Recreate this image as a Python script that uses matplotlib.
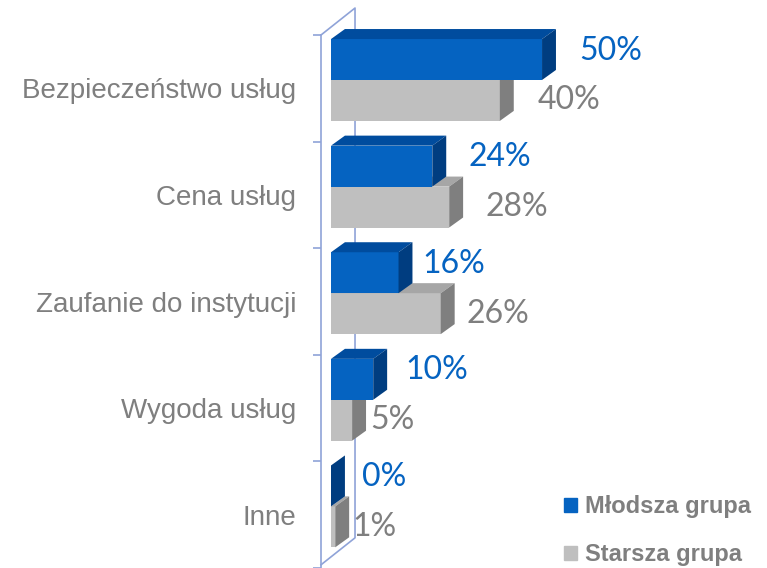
import matplotlib.pyplot as plt
from matplotlib.patches import Polygon, Patch
import numpy as np

categories = ['Bezpieczeństwo usług', 'Cena usług', 'Zaufanie do instytucji',
              'Wygoda usług', 'Inne']
mlodsza = [50, 24, 16, 10, 0]
starsza = [40, 28, 26, 5, 1]
series_names = ['Młodsza grupa', 'Starsza grupa']

# label gaps (pixels) after the 3d side face, tuned by eye
blue_gap = [23, 22, 10, 18, 17]
gray_gap = [24, 22, 12, 4, 3]

BLUE = '#0563C1'
BLUE_TOP = '#004C9E'
BLUE_SIDE = '#003D80'
GRAY = '#BFBFBF'
GRAY_TOP = '#A6A6A6'
GRAY_SIDE = '#7F7F7F'
WALL = '#8FA3D8'
TXT = '#7F7F7F'

# fake 3d depth in data units
DX = 3.3
DY = -0.094
H = 0.384

fig = plt.figure(figsize=(7.67, 5.68), dpi=100)
ax = fig.add_axes([321 / 767, 0, 1 - 321 / 767, 533 / 568])
ax.set_xlim(-2.37, 103.3)
ax.set_ylim(4.995, 0)

n = len(categories)
idx = np.arange(n)
y_blue = idx + 0.23
y_gray = idx + 0.23 + H


def draw_3d(vals, ys, front, top, side, z):
    bars = ax.barh(ys, vals, height=H, color=front, zorder=z, clip_on=False)
    for b in bars:
        x0, yt = b.get_x(), b.get_y()
        w, h = b.get_width(), b.get_height()
        # top face
        ax.add_patch(Polygon([(x0, yt), (x0 + w, yt), (x0 + w + DX, yt + DY), (x0 + DX, yt + DY)],
                             closed=True, color=top, zorder=z, clip_on=False, lw=0))
        # right face
        ax.add_patch(Polygon([(x0 + w, yt), (x0 + w, yt + h), (x0 + w + DX, yt + h + DY),
                              (x0 + w + DX, yt + DY)],
                             closed=True, color=side, zorder=z, clip_on=False, lw=0))
    return bars


# back wall
bx = -2.37 + 8.06
by = -0.253
ax.plot([-2.37, bx, bx, -2.37], [0, by, 4.97 + by, 4.97], color=WALL, lw=1.2,
        zorder=1, clip_on=False)

draw_3d(starsza, y_gray, GRAY, GRAY_TOP, GRAY_SIDE, 2)
draw_3d(mlodsza, y_blue, BLUE, BLUE_TOP, BLUE_SIDE, 3)

for i in range(n):
    ax.annotate('{}%'.format(mlodsza[i]), (mlodsza[i] + DX, y_blue[i]),
                xytext=(blue_gap[i], 9), textcoords='offset pixels',
                ha='left', va='center', fontsize=23, color=BLUE, family='Lato',
                annotation_clip=False)
    ax.annotate('{}%'.format(starsza[i]), (starsza[i] + DX, y_gray[i]),
                xytext=(gray_gap[i], 0), textcoords='offset pixels',
                ha='left', va='center', fontsize=23, color=TXT, family='Lato',
                annotation_clip=False)

for s in ['top', 'right', 'bottom']:
    ax.spines[s].set_visible(False)
ax.spines['left'].set_color(WALL)
ax.spines['left'].set_linewidth(1.2)
ax.set_xticks([])
ax.set_yticks(np.arange(n + 1))
ax.set_yticklabels([])
ax.tick_params(axis='y', which='major', length=6, color=WALL, width=1.2)
ax.set_yticks(idx + 0.5, minor=True)
ax.set_yticklabels(categories, minor=True, fontsize=20, color=TXT,
                   family='Liberation Sans')
ax.tick_params(axis='y', which='minor', length=0, pad=18)

handles = [Patch(color=BLUE), Patch(color=GRAY)]
leg = fig.legend(handles, series_names, loc='lower right', bbox_to_anchor=(1.007, -0.034),
                 frameon=False, handlelength=0.55, handleheight=0.55, handletextpad=0.35,
                 labelspacing=1.05, prop={'family': 'Liberation Sans', 'weight': 'bold', 'size': 17})
for t in leg.get_texts():
    t.set_color(TXT)

fig.savefig('out.png', dpi=100)
